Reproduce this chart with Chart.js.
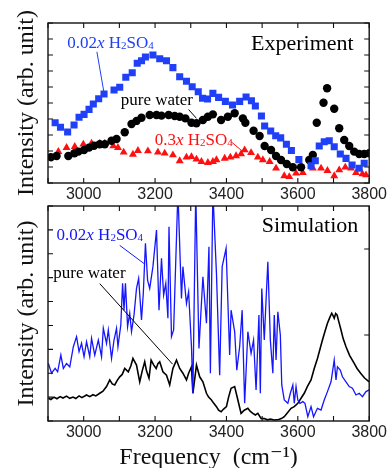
<!DOCTYPE html>
<html>
<head>
<meta charset="utf-8">
<script src="https://cdn.jsdelivr.net/npm/chart.js@4.4.0/dist/chart.umd.min.js"></script>
<style>
  html, body { margin: 0; padding: 0; background: #fff; overflow: hidden; }
  #wrap { position: relative; width: 389px; height: 468px; overflow: hidden; }
  #wrap canvas { position: absolute; left: 0; }
</style>
</head>
<body>
<div id="wrap">
  <canvas id="sim" width="389" height="290" style="top:195px"></canvas>
  <canvas id="exp" width="389" height="205" style="top:0"></canvas>
</div>
<script>
// ---- data ----
const freqTickLabels = [3000, 3200, 3400, 3600, 3800];

// Experiment: 0.02x H2SO4 (blue squares)
const expAcid002Freq = [2920, 2935, 2955, 2973, 2987, 3001, 3015, 3027, 3042, 3057, 3085, 3101, 3118, 3136, 3150, 3162, 3173, 3194, 3213, 3232, 3250, 3269, 3288, 3304, 3321, 3333, 3347, 3362, 3378, 3397, 3417, 3437, 3455, 3470, 3481, 3498, 3507, 3524, 3538, 3552, 3568, 3582, 3603, 3637, 3649, 3660, 3674, 3688, 3702, 3719, 3735, 3752, 3772, 3786];
const expAcid002Int = [3.77, 3.48, 3.19, 3.63, 4.11, 4.29, 4.6, 4.94, 5.27, 5.56, 5.81, 5.98, 6.61, 6.89, 7.48, 7.64, 7.87, 8.0, 7.77, 7.64, 7.21, 6.64, 6.36, 6.02, 5.7, 5.3, 5.25, 5.6, 5.35, 5.1, 4.88, 5.1, 5.38, 5.14, 4.81, 4.19, 3.56, 3.25, 2.95, 2.82, 2.42, 2.03, 1.46, 1.08, 1.39, 2.31, 2.58, 2.64, 2.27, 1.81, 1.54, 1.13, 0.92, 1.23];

// Experiment: pure water (black circles)
const expWaterFreq = [2908, 2924, 2957, 2974, 2985, 3001, 3015, 3029, 3045, 3059, 3078, 3092, 3115, 3134, 3148, 3162, 3185, 3204, 3218, 3238, 3255, 3269, 3285, 3302, 3316, 3334, 3348, 3362, 3385, 3404, 3423, 3446, 3453, 3476, 3493, 3507, 3525, 3539, 3553, 3569, 3586, 3609, 3632, 3642, 3653, 3672, 3682, 3702, 3716, 3730, 3744, 3758, 3772, 3786, 3800];
const expWaterInt = [1.61, 1.69, 1.69, 1.86, 1.96, 2.06, 2.21, 2.33, 2.42, 2.42, 2.64, 2.75, 3.17, 3.69, 3.88, 4.08, 4.25, 4.25, 4.21, 4.25, 4.19, 4.14, 4.04, 3.77, 3.73, 3.94, 4.14, 4.29, 3.94, 4.14, 4.36, 4.04, 3.77, 3.27, 2.94, 2.31, 2.06, 1.69, 1.44, 1.19, 0.98, 0.98, 1.44, 1.75, 3.77, 5.02, 5.92, 4.64, 3.42, 2.69, 2.31, 1.96, 1.81, 1.81, 1.86];

// Experiment: 0.3x H2SO4 (red triangles)
const expAcid03Freq = [2906, 2929, 2952, 2975, 2999, 3022, 3045, 3059, 3083, 3096, 3112, 3138, 3152, 3180, 3208, 3227, 3250, 3269, 3288, 3302, 3316, 3330, 3348, 3362, 3372, 3395, 3411, 3427, 3441, 3451, 3469, 3488, 3502, 3521, 3539, 3562, 3576, 3595, 3614, 3642, 3665, 3683, 3702, 3716, 3733, 3749, 3763, 3781, 3791];
const expAcid03Int = [1.61, 1.96, 2.21, 2.27, 2.42, 2.48, 2.48, 2.48, 2.31, 2.21, 1.92, 1.79, 2.02, 2.0, 1.92, 1.86, 1.75, 1.38, 1.61, 1.64, 1.48, 1.33, 1.27, 1.33, 1.44, 1.54, 1.61, 1.69, 1.81, 2.06, 1.89, 1.61, 1.44, 1.33, 0.92, 0.44, 0.39, 0.61, 0.64, 0.92, 0.92, 0.77, 0.44, 0.81, 0.98, 0.92, 0.64, 0.56, 0.5];

// Simulation: pure water (black line)
const simWaterFreq = [2901, 2908, 2917, 2925, 2934, 2942, 2952, 2961, 2970, 2978, 2987, 2995, 3008, 3017, 3026, 3034, 3045, 3054, 3064, 3073, 3080, 3087, 3094, 3101, 3108, 3115, 3125, 3132, 3138, 3148, 3157, 3164, 3171, 3176, 3183, 3189, 3196, 3203, 3208, 3213, 3222, 3232, 3241, 3250, 3260, 3269, 3278, 3288, 3294, 3302, 3306, 3316, 3325, 3334, 3344, 3350, 3358, 3364, 3372, 3378, 3385, 3392, 3400, 3406, 3413, 3423, 3432, 3441, 3450, 3460, 3467, 3474, 3481, 3488, 3497, 3506, 3515, 3523, 3534, 3546, 3554, 3562, 3571, 3581, 3590, 3600, 3609, 3618, 3627, 3637, 3646, 3655, 3662, 3669, 3676, 3683, 3690, 3695, 3699, 3702, 3706, 3710, 3715, 3721, 3727, 3735, 3745, 3758, 3766, 3776, 3787, 3800];
const simWaterInt = [0.95, 0.9, 1.0, 0.93, 1.02, 0.96, 1.04, 0.95, 1.0, 0.94, 1.05, 0.98, 1.09, 1.02, 1.1, 1.05, 1.16, 1.25, 1.44, 1.72, 1.55, 1.51, 1.7, 1.85, 1.95, 2.2, 2.06, 2.3, 2.62, 2.34, 1.64, 2.1, 2.48, 2.1, 1.79, 2.55, 2.35, 2.2, 2.4, 2.48, 2.06, 1.92, 1.51, 2.2, 2.55, 2.2, 2.0, 1.72, 2.0, 2.27, 1.16, 2.34, 1.85, 1.64, 1.16, 1.0, 0.88, 0.75, 0.6, 0.45, 0.39, 0.5, 0.6, 1.0, 1.37, 1.44, 0.88, 0.32, 0.45, 0.53, 0.4, 0.32, 0.25, 0.32, 0.11, 0.1, 0.05, 0.08, 0.04, 0.06, 0.1, 0.18, 0.35, 0.53, 0.6, 0.74, 0.95, 1.16, 1.45, 1.72, 2.2, 2.62, 3.0, 3.39, 3.75, 4.09, 4.35, 4.51, 4.4, 4.3, 4.5, 4.44, 4.15, 3.81, 3.45, 3.11, 2.75, 2.41, 2.2, 2.0, 1.8, 1.64];

// Simulation: 0.02x H2SO4 (blue line)
const simAcidFreq = [2901, 2910, 2920, 2927, 2936, 2943, 2952, 2961, 2971, 2980, 2987, 2994, 3001, 3008, 3017, 3022, 3031, 3041, 3050, 3055, 3064, 3069, 3078, 3085, 3092, 3096, 3104, 3109, 3113, 3117, 3123, 3129, 3134, 3141, 3148, 3154, 3162, 3167, 3173, 3179, 3185, 3194, 3204, 3211, 3218, 3224, 3230, 3236, 3239, 3246, 3252, 3264, 3274, 3278, 3288, 3294, 3302, 3306, 3314, 3323, 3334, 3344, 3351, 3355, 3362, 3372, 3381, 3388, 3399, 3409, 3413, 3423, 3429, 3437, 3444, 3451, 3460, 3469, 3476, 3483, 3491, 3495, 3499, 3506, 3511, 3516, 3523, 3530, 3534, 3539, 3544, 3551, 3555, 3562, 3572, 3579, 3586, 3590, 3595, 3600, 3606, 3614, 3620, 3628, 3637, 3644, 3655, 3665, 3674, 3683, 3693, 3702, 3707, 3711, 3719, 3725, 3735, 3744, 3753, 3763, 3772, 3781, 3791, 3800];
const simAcidInt = [2.41, 2.0, 2.2, 2.06, 2.76, 2.2, 2.41, 2.27, 3.11, 3.53, 2.9, 3.25, 2.69, 3.32, 2.69, 3.46, 2.76, 3.39, 2.69, 3.88, 3.25, 3.81, 2.62, 3.39, 3.88, 3.11, 4.02, 5.76, 4.64, 5.76, 3.95, 4.51, 3.74, 4.44, 5.55, 5.97, 4.23, 5.34, 7.44, 5.9, 5.55, 6.46, 7.99, 4.64, 6.81, 5.27, 5.76, 4.3, 8.13, 3.53, 3.81, 9.6, 5.13, 6.46, 4.92, 5.41, 3.11, 1.16, 9.6, 3.04, 6.04, 4.09, 7.29, 2.0, 9.6, 6.18, 1.92, 6.46, 7.23, 2.76, 4.64, 3.74, 2.13, 3.11, 4.64, 0.74, 3.74, 2.83, 3.39, 1.3, 4.44, 1.16, 5.55, 3.39, 5.06, 6.67, 3.39, 2.0, 4.44, 2.55, 4.57, 3.6, 1.51, 0.88, 0.74, 1.16, 1.51, 0.74, 1.44, 0.88, 0.74, 0.81, 0.74, 0.18, 0.6, 0.18, 0.53, 0.46, 0.88, 1.23, 1.64, 2.55, 1.72, 2.27, 2.13, 1.85, 1.64, 1.44, 1.37, 1.09, 1.16, 1.02, 1.23, 1.3];

// ---- helpers ----
const BLUE = '#2040f8', RED = '#ff1010', BLACK = '#000000', LINEBLUE = '#1515ff';
const SERIF = '"Liberation Serif", "DejaVu Serif", serif';
const pts = (xs, ys) => xs.map((x, i) => ({ x: x, y: ys[i] }));
const acidParts = amount => [[amount, 'n'], ['x', 'i'], [' H', 'n'], ['2', 's'], ['SO', 'n'], ['4', 's']];

function richText(ctx, x, y, parts, size, color) {
  ctx.fillStyle = color;
  ctx.textAlign = 'left';
  ctx.textBaseline = 'alphabetic';
  parts.forEach(([txt, kind]) => {
    const s = kind === 's' ? Math.round(size * 0.62) : size;
    ctx.font = (kind === 'i' ? 'italic ' : '') + s + 'px ' + SERIF;
    ctx.fillText(txt, x, y + (kind === 's' ? 1 : 0));
    x += ctx.measureText(txt).width;
  });
}

// box round the plot with inward ticks on all four sides
function framePlugin(rightTicks) {
  return {
    id: 'frame',
    afterDraw(chart) {
      const { ctx, chartArea: a, scales: { x, y } } = chart;
      ctx.save();
      ctx.strokeStyle = '#111';
      ctx.lineWidth = 1.4;
      ctx.strokeRect(a.left, a.top, a.right - a.left, a.bottom - a.top);
      ctx.lineWidth = 1.1;
      ctx.beginPath();
      x.ticks.forEach(t => {
        const px = x.getPixelForValue(t.value);
        ctx.moveTo(px, a.bottom); ctx.lineTo(px, a.bottom - 5);
        ctx.moveTo(px, a.top); ctx.lineTo(px, a.top + 5);
      });
      y.ticks.forEach(t => {
        const py = y.getPixelForValue(t.value);
        ctx.moveTo(a.left, py); ctx.lineTo(a.left + 5, py);
      });
      (rightTicks || y.ticks.map(t => t.value)).forEach(v => {
        const py = y.getPixelForValue(v);
        ctx.moveTo(a.right, py); ctx.lineTo(a.right - 5, py);
      });
      ctx.stroke();
      ctx.restore();
    }
  };
}

// text notes and their leader lines, placed in data units
function notesPlugin(notes) {
  return {
    id: 'notes',
    afterDatasetsDraw(chart) {
      const { ctx, scales: { x, y } } = chart;
      ctx.save();
      notes.forEach(n => {
        if (n.lead) {
          ctx.strokeStyle = n.color;
          ctx.lineWidth = 1;
          ctx.beginPath();
          ctx.moveTo(x.getPixelForValue(n.lead[0]), y.getPixelForValue(n.lead[1]));
          ctx.lineTo(x.getPixelForValue(n.lead[2]), y.getPixelForValue(n.lead[3]));
          ctx.stroke();
        }
        richText(ctx, x.getPixelForValue(n.x), y.getPixelForValue(n.y), n.parts, n.size, n.color);
      });
      ctx.restore();
    }
  };
}

function xAxis(height, title) {
  return {
    type: 'linear', min: 2900, max: 3800,
    grid: { display: false, drawTicks: false },
    border: { display: false },
    ticks: {
      stepSize: 100, autoSkip: false, maxRotation: 0, padding: 2, color: '#222',
      font: { family: '"Liberation Sans", Arial, sans-serif', size: 16 },
      callback: v => freqTickLabels.includes(v) ? String(v) : ''
    },
    title: title,
    afterFit: s => { s.height = height; }
  };
}

function yAxis(max) {
  return {
    type: 'linear', min: 0, max: max,
    grid: { display: false, drawTicks: false },
    border: { display: false },
    ticks: { display: false, stepSize: 1 },
    title: {
      display: true, text: 'Intensity (arb. unit)', color: '#111',
      font: { family: SERIF, size: 24 }, padding: { top: 12, bottom: 0 }
    },
    afterFit: s => { s.width = 48; }
  };
}

// ---- experiment panel ----
new Chart(document.getElementById('exp'), {
  type: 'scatter',
  data: {
    datasets: [
      { label: '0.02x H2SO4', data: pts(expAcid002Freq, expAcid002Int), pointStyle: 'rect', pointRadius: 5, backgroundColor: BLUE, borderColor: BLUE, borderWidth: 0 },
      { label: 'pure water', data: pts(expWaterFreq, expWaterInt), pointStyle: 'circle', pointRadius: 4.2, backgroundColor: BLACK, borderColor: BLACK, borderWidth: 0 },
      { label: '0.3x H2SO4', data: pts(expAcid03Freq, expAcid03Int), pointStyle: 'triangle', pointRadius: 4.6, backgroundColor: RED, borderColor: RED, borderWidth: 0 }
    ]
  },
  options: {
    responsive: false,
    animation: false,
    layout: { padding: { top: 23, right: 19, left: 0, bottom: 0 } },
    plugins: { legend: { display: false }, tooltip: { enabled: false } },
    scales: { x: xAxis(22, { display: false }), y: yAxis(10) }
  },
  plugins: [
    framePlugin(null),
    notesPlugin([
      { x: 2954, y: 8.44, parts: acidParts('0.02'), size: 17, color: BLUE, lead: [3037, 8.2, 3057, 5.63] },
      { x: 3104, y: 4.88, parts: [['pure water', 'n']], size: 17, color: BLACK, lead: [3294, 4.59, 3316, 4.04] },
      { x: 3199, y: 2.38, parts: acidParts('0.3'), size: 17, color: RED, lead: [3413, 2.58, 3446, 1.96] },
      { x: 3469, y: 8.31, parts: [['Experiment', 'n']], size: 22, color: BLACK }
    ])
  ]
});

// ---- simulation panel ----
new Chart(document.getElementById('sim'), {
  type: 'line',
  data: {
    datasets: [
      { label: '0.02x H2SO4', data: pts(simAcidFreq, simAcidInt), borderColor: LINEBLUE, borderWidth: 1.3, pointRadius: 0, tension: 0, fill: false },
      { label: 'pure water', data: pts(simWaterFreq, simWaterInt), borderColor: BLACK, borderWidth: 1.6, pointRadius: 0, tension: 0, fill: false }
    ]
  },
  options: {
    responsive: false,
    animation: false,
    layout: { padding: { top: 11, right: 18, left: 0, bottom: 0 } },
    plugins: { legend: { display: false }, tooltip: { enabled: false } },
    scales: {
      x: xAxis(64, {
        display: true, text: 'Frequency  (cm\u207B\u00B9)', color: '#111',
        font: { family: SERIF, size: 24 }, padding: { top: 0, bottom: 13 }
      }),
      y: yAxis(9)
    }
  },
  plugins: [
    framePlugin([3.6, 7.2]),
    notesPlugin([
      { x: 2924, y: 7.57, parts: acidParts('0.02'), size: 17, color: LINEBLUE, lead: [3101, 7.35, 3171, 6.57] },
      { x: 2915, y: 5.98, parts: [['pure water', 'n']], size: 17, color: BLACK, lead: [3045, 5.75, 3249, 2.38] },
      { x: 3499, y: 7.92, parts: [['Simulation', 'n']], size: 22, color: BLACK }
    ])
  ]
});
</script>
</body>
</html>
